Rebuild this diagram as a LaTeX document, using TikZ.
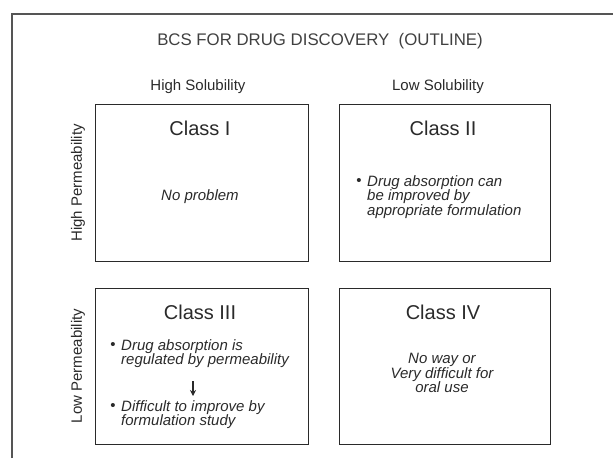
\documentclass[tikz,border=0pt]{standalone}
\usepackage{fontspec}
\setmainfont{Liberation Sans}
\usetikzlibrary{arrows.meta}
\definecolor{ink}{HTML}{2A2A2A}
\definecolor{frame}{HTML}{555555}
\tikzset{
  classbox/.style={draw=ink, line width=0.9pt, fill=none},
  classtitle/.style={text=ink, font=\fontsize{20}{22}\selectfont, inner sep=0pt},
  axislabel/.style={text=ink, font=\fontsize{15}{17}\selectfont, inner sep=0pt},
  body/.style={text=ink, font=\fontsize{15}{14.7}\selectfont\itshape, inner sep=0pt, align=left},
  bodyc/.style={text=ink, font=\fontsize{15}{14.7}\selectfont\itshape, inner sep=0pt, align=center},
  bul/.style={text=ink, font=\fontsize{15}{15}\selectfont, inner sep=0pt},
}
\begin{document}
\begin{tikzpicture}[x=1pt, y=-1pt]
\useasboundingbox (0,0) rectangle (613,458);
% outer frame
\draw[frame, line width=1.3pt] (12,458) -- (12,14) -- (613,14);
% title
\node[text=black!75, font=\fontsize{16.8}{18}\selectfont, inner sep=0pt] (title) at (320,41) {BCS FOR DRUG DISCOVERY\ \ (OUTLINE)};
% solubility labels
\node[axislabel] (hs) at (198,87) {High Solubility};
\node[axislabel] (ls) at (438,87) {Low Solubility};
% permeability labels
\node[axislabel, rotate=90] (hp) at (78,183) {High Permeability};
\node[axislabel, rotate=90] (lp) at (78,366) {Low Permeability};
% boxes
\draw[classbox] (95,104) rectangle (308,261);
\draw[classbox] (339,104) rectangle (550,261);
\draw[classbox] (95,288) rectangle (308,444);
\draw[classbox] (339,288) rectangle (550,444);
% class titles
\node[classtitle] (c1) at (200,128) {Class I};
\node[classtitle] (c2) at (443,128) {Class II};
\node[classtitle] (c3) at (200,312) {Class III};
\node[classtitle] (c4) at (443,312) {Class IV};
% class I
\node[bodyc] (t1) at (200,197) {No problem};
% class II
\node[bul] (b2) at (359,182) {\textbullet};
\node[body, anchor=west] (t2) at (367,197) {Drug absorption can\\be improved by\\appropriate formulation};
% class III
\node[bul] (b3a) at (113,346) {\textbullet};
\node[body, anchor=west] (t3a) at (121,353.5) {Drug absorption is\\regulated by permeability};
\node[bul] (b3b) at (113,407) {\textbullet};
\node[body, anchor=west] (t3b) at (121,414.5) {Difficult to improve by\\formulation study};
\coordinate (arA) at (193,381);
\coordinate (arB) at (193,396);
\draw[ink, line width=1.1pt, -{Stealth[length=6pt, width=6pt]}] (arA) -- (arB);
% class IV
\node[bodyc] (t4) at (442,373) {No way or\\Very difficult for\\oral use};
\end{tikzpicture}
\end{document}
